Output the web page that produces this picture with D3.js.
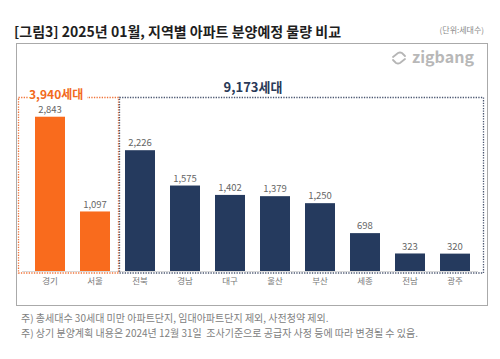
<!DOCTYPE html>
<html><head><meta charset="utf-8">
<script src="https://cdn.jsdelivr.net/npm/d3@7"></script>
<style>
body{margin:0;background:#fff;}
text{font-family:"Noto Sans CJK KR","Noto Sans",sans-serif;}
</style></head>
<body><svg id="c" width="500" height="359"></svg>
<script>
const categories = ["경기","서울","전북","경남","대구","울산","부산","세종","전남","광주"];
const values = [2843,1097,2226,1575,1402,1379,1250,698,323,320];
const groups = ["capital","capital","local","local","local","local","local","local","local","local"];
const groupTotals = {capital:"3,940세대", local:"9,173세대"};
const title = "[그림3] 2025년 01월, 지역별 아파트 분양예정 물량 비교";
const unitLabel = "(단위:세대수)";
const notes = ["주) 총세대수 30세대 미만 아파트단지, 임대아파트단지 제외, 사전청약 제외.",
               "주) 상기 분양계획 내용은 2024년 12월 31일  조사기준으로 공급자 사정 등에 따라 변경될 수 있음."];

const svg = d3.select("#c");
const colors = {capital:"#f96b1d", local:"#253a5e"};

svg.append("text").attr("x",14).attr("y",37).attr("font-size",14).attr("font-weight",700)
  .attr("fill","#1e1e1e").text(title);
svg.append("text").attr("x",484).attr("y",33).attr("text-anchor","end").attr("font-size",8)
  .attr("fill","#888").text(unitLabel);

// panel
svg.append("rect").attr("x",16.5).attr("y",43.5).attr("width",471).attr("height",262)
  .attr("fill","#fff").attr("stroke","#aaa").attr("stroke-width",1);

// logo
const lg = svg.append("g").attr("transform","translate(399,58)");
lg.append("path").attr("d","M-6,-1 L-1,-5 Q1,-6 3,-5 L6,-2 M6,1 L1,5 Q-1,6 -3,5 L-6,2")
  .attr("fill","none").attr("stroke","#b5b5b5").attr("stroke-width",1.8).attr("stroke-linecap","round");
svg.append("text").attr("x",412).attr("y",63).attr("font-family","Lato, 'Open Sans', sans-serif")
  .attr("font-size",16).attr("font-weight",700).attr("fill","#b8b8b8").text("zigbang");

const x = d3.scaleBand().domain(categories).range([27.5,477.5]).paddingInner(1/3).paddingOuter(1/6);
const y = d3.scaleLinear().domain([0,3000]).range([271,108.2]);

// baseline axis
const axis = svg.append("g").attr("transform","translate(0,271)")
  .call(d3.axisBottom(x).tickSize(0).tickPadding(7));
axis.select(".domain").attr("stroke","#d8d8d8").attr("d","M22,0.5H478");
axis.selectAll("text").attr("font-size",8.5).attr("fill","#777")
  .attr("font-family","'Noto Sans CJK KR',sans-serif");

// group dotted boxes
const boxes = [
  {g:"capital", x0:18.5, x1:118.5, color:"#f0743a"},
  {g:"local", x0:119.5, x1:483.5, color:"#4a5670"}
];
boxes.forEach(b=>{
  svg.append("rect").attr("x",b.x0).attr("y",97.5).attr("width",b.x1-b.x0).attr("height",175.5)
    .attr("fill","none").attr("stroke",b.color).attr("stroke-width",1.3).attr("stroke-dasharray","1.3,1.3");
});
// orange title over the box line
svg.append("rect").attr("x",28).attr("y",89).attr("width",59).attr("height",12).attr("fill","#fff");
svg.append("text").attr("x",29).attr("y",99).attr("font-size",12).attr("font-weight",700)
  .attr("fill","#f26a1c").text(groupTotals.capital);
svg.append("text").attr("x",253).attr("y",92).attr("text-anchor","middle").attr("font-size",13)
  .attr("font-weight",700).attr("fill","#2a3a58").text(groupTotals.local);

// bars
const data = categories.map((c,i)=>({c, v:values[i], g:groups[i]}));
svg.selectAll("rect.bar").data(data).enter().append("rect").attr("class","bar")
  .attr("x",d=>x(d.c)).attr("width",x.bandwidth())
  .attr("y",d=>y(d.v)).attr("height",d=>y(0)-y(d.v))
  .attr("fill",d=>colors[d.g]);
svg.selectAll("text.val").data(data).enter().append("text").attr("class","val")
  .attr("x",d=>x(d.c)+x.bandwidth()/2).attr("y",d=>y(d.v)-3.8)
  .attr("text-anchor","middle").attr("font-size",9.5).attr("fill","#666")
  .attr("font-family","'Noto Sans',sans-serif")
  .text(d=>d3.format(",")(d.v));

// notes
notes.forEach((n,i)=>{
  svg.append("text").attr("x",21).attr("y",322+i*14.5).attr("font-size",10).attr("fill","#808080")
    .style("white-space","pre").text(n);
});
</script></body></html>
